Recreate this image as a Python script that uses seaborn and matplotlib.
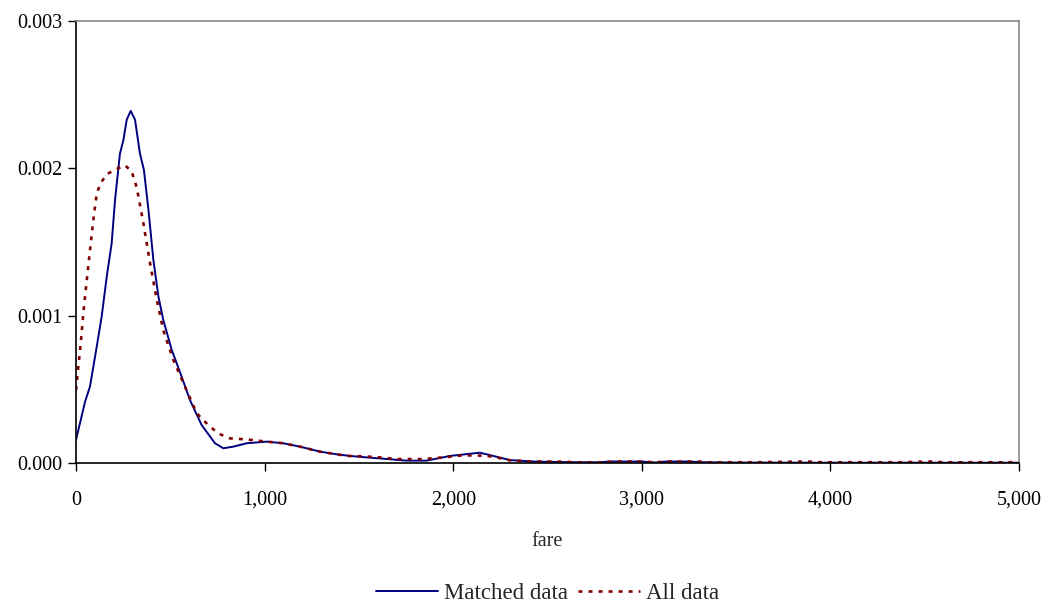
import matplotlib
matplotlib.use("Agg")
import matplotlib.pyplot as plt
import matplotlib.ticker as mticker
import seaborn as sns
import pandas as pd

matched_fare = [0, 48, 74, 110, 136, 163, 189, 207, 233, 251, 269, 290, 313, 339, 360, 384, 410, 437,
                463, 507, 560, 604, 666, 737, 781, 834, 905, 1011, 1099, 1188, 1294, 1382, 1453, 1541,
                1650, 1753, 1859, 1983, 2142, 2301, 2420, 2550, 2655, 2775, 2830, 3000, 3073, 3128,
                3250, 3330, 3500, 4000, 4500, 5000]
matched_dens = [0.000156, 0.000416, 0.000518, 0.00079, 0.000993, 0.001265, 0.00149, 0.001785, 0.0021,
                0.00219, 0.00233, 0.00239, 0.00233, 0.0021, 0.00199, 0.00172, 0.00138, 0.00113,
                0.00097, 0.00077, 0.000586, 0.000428, 0.000258, 0.000134, 0.0001, 0.000111, 0.000134,
                0.000145, 0.000134, 0.000111, 0.000077, 0.000059, 0.000048, 0.000038,
                0.000027, 0.000016, 0.000016, 0.000048, 0.00007, 0.00002, 0.00001, 0.000007, 0.000005,
                0.000005, 0.00001, 0.00001, 0.000003, 0.00001,
                0.00001, 0.000005, 0.000003, 0.000002, 0.000002, 0.000002]

all_fare = [0, 12, 25, 39, 57, 78, 92, 110, 131, 163, 207, 260, 295, 322, 357, 392, 428, 463, 516,
            578, 640, 701, 755, 817, 905, 1011, 1099, 1188, 1294, 1382, 1435, 1530, 1612, 1700, 1841,
            1947, 2053, 2160, 2212, 2301, 2420, 2550, 2660, 2780, 2850, 3000, 3070, 3135, 3300, 3350,
            3600, 3880, 3950, 4380, 4530, 4600, 5000]
all_dens = [0.000496, 0.00065, 0.00081, 0.00102, 0.00124, 0.00149, 0.00165, 0.00183, 0.0019, 0.00196,
            0.00199, 0.00202, 0.00198, 0.00187, 0.00163, 0.00136, 0.00111, 0.0009, 0.0007,
            0.000518, 0.000337, 0.000258, 0.0002, 0.000167, 0.00016, 0.000145, 0.000134, 0.000111,
            0.000077, 0.000059, 0.000048, 0.000045, 0.000038, 0.000027, 0.000027,
            0.000038, 0.000052, 0.00005, 0.000043, 0.000018, 0.00001, 0.00001, 0.000005, 0.000005,
            0.00001, 0.00001, 0.000005, 0.00001, 0.00001, 0.000005,
            0.000005, 0.00001, 0.000005, 0.000005, 0.00001, 0.000005, 0.000005]

series_names = ["Matched data", "All data"]
x_ticks = [0, 1000, 2000, 3000, 4000, 5000]
y_ticks = [0.0, 0.001, 0.002, 0.003]

sns.set_style("white")
plt.rcParams['font.family'] = ['Liberation Serif', 'DejaVu Serif']

fig = plt.figure(figsize=(10.47, 6.05), dpi=100)
ax = fig.add_axes([76/1047, 1-463/605, (1019-76)/1047, (463-21)/605])

df_m = pd.DataFrame({"fare": matched_fare, "density": matched_dens})
df_a = pd.DataFrame({"fare": all_fare, "density": all_dens})

sns.lineplot(data=df_m, x="fare", y="density", ax=ax, color="#000080", linewidth=1.4,
             label=series_names[0], sort=False)
sns.lineplot(data=df_a, x="fare", y="density", ax=ax, color="#800000", linewidth=1.9,
             label=series_names[1], sort=False)
ax.lines[1].set_dashes((1.5, 2.3))

ax.set_xlim(0, 5000)
ax.set_ylim(0, 0.003)
ax.set_xticks(x_ticks)
ax.set_yticks(y_ticks)
ax.xaxis.set_major_formatter(mticker.FuncFormatter(lambda v, p: f"{int(v):,}"))
ax.yaxis.set_major_formatter(mticker.FormatStrFormatter("%.3f"))
ax.tick_params(axis="both", which="major", direction="out", length=6, width=1, colors="black",
               labelsize=14.5, bottom=True, left=True, pad=4)
ax.tick_params(axis="x", pad=14)
ax.set_xlabel("fare", fontsize=14.5, labelpad=16)
ax.set_ylabel("")

for s in ["left", "bottom"]:
    ax.spines[s].set_color("black")
    ax.spines[s].set_linewidth(1.2)
for s in ["top", "right"]:
    ax.spines[s].set_color("#888888")
    ax.spines[s].set_linewidth(1.2)

handles, labels = ax.get_legend_handles_labels()
ax.get_legend().remove()
fig.legend(handles, labels, loc="center", bbox_to_anchor=(547.5/1047, 1-593/605), ncol=2,
           frameon=False, fontsize=16.5, handlelength=2.7, handletextpad=0.26, columnspacing=0.45)

fig.savefig("out.png", dpi=100)
